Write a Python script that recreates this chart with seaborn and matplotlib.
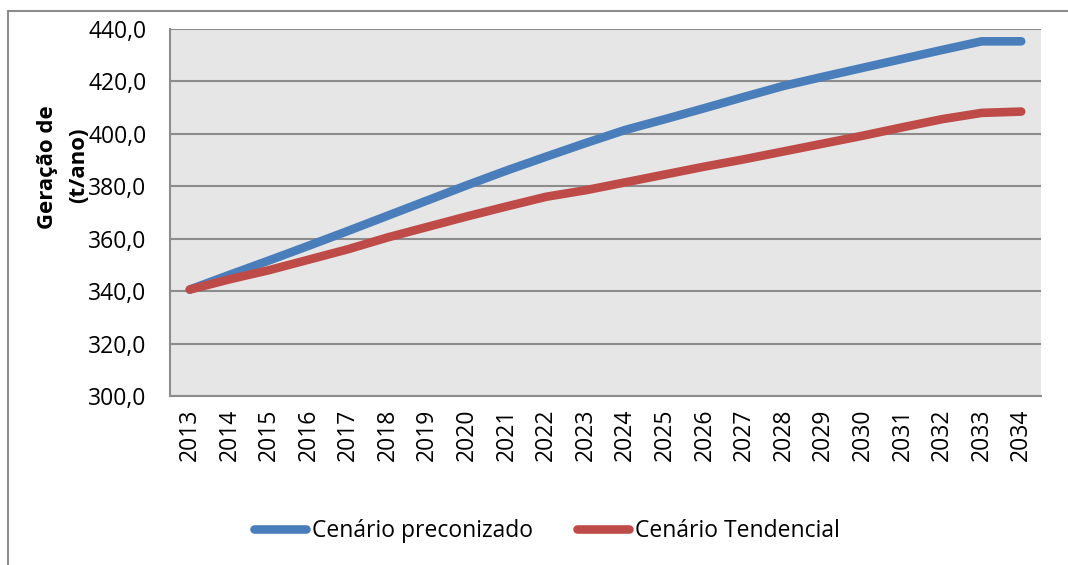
import numpy as np
import pandas as pd
import seaborn as sns
import matplotlib.pyplot as plt
from matplotlib.lines import Line2D
from matplotlib.ticker import FixedLocator, FuncFormatter

years = list(range(2013, 2035))
preconizado = [340.6, 346.2, 351.7, 357.3, 363.0, 368.8, 374.6, 380.4, 386.0, 391.3, 396.5,
               401.5, 405.6, 409.8, 414.1, 418.3, 421.8, 425.2, 428.6, 432.0, 435.3, 435.3]
tendencial = [340.6, 344.5, 348.0, 352.0, 356.0, 360.5, 364.5, 368.5, 372.3, 376.0, 378.5,
              381.5, 384.5, 387.5, 390.3, 393.3, 396.3, 399.3, 402.5, 405.6, 408.0, 408.5]
series_names = ["Cenário preconizado", "Cenário Tendencial"]
y_ticks = [300, 320, 340, 360, 380, 400, 420, 440]

df = pd.DataFrame({
    "Ano": years * 2,
    "Valor": preconizado + tendencial,
    "Serie": [series_names[0]] * len(years) + [series_names[1]] * len(years),
})

sns.set_style("white")
plt.rcParams['font.family'] = ['Open Sans', 'DejaVu Sans']
plt.rcParams['text.color'] = 'black'
plt.rcParams['xtick.labelcolor'] = 'black'
plt.rcParams['ytick.labelcolor'] = 'black'

W, H = 1068, 565
fig = plt.figure(figsize=(W / 100, H / 100), dpi=100)
ax = fig.add_axes([170 / W, 1 - 396 / H, 871 / W, 367 / H])
ax.set_facecolor("#E6E6E6")

palette = {series_names[0]: "#4A7EBB", series_names[1]: "#BE4B48"}
sns.lineplot(data=df, x="Ano", y="Valor", hue="Serie", palette=palette, ax=ax,
             linewidth=6.2, solid_capstyle="round", legend=True)

ax.set_ylim(300, 440)
ax.set_xlim(years[0] - 0.5, years[-1] + 0.5)
ax.yaxis.set_major_locator(FixedLocator(y_ticks))
ax.yaxis.set_major_formatter(FuncFormatter(lambda v, p: f"{v:.1f}".replace(".", ",")))
ax.grid(axis="y", color="#8C8C8C", linewidth=1.5)
ax.set_axisbelow(True)

ax.set_xticks(years)
ax.set_xticklabels([str(y) for y in years], rotation=90)
ax.set_xticks(np.arange(years[0] - 0.5, years[-1] + 1.0, 1.0), minor=True)
ax.tick_params(axis="x", which="major", length=0, labelsize=16.5, pad=9, labelcolor="black")
ax.tick_params(axis="x", which="minor", length=7, width=1.2, color="#8C8C8C", direction="out")
ax.tick_params(axis="y", length=7, width=1.2, color="#8C8C8C", direction="out", labelsize=16.5,
               pad=10, labelcolor="black")

for s in ["top", "right"]:
    ax.spines[s].set_visible(False)
for s in ["left", "bottom"]:
    ax.spines[s].set_color("#8C8C8C")
    ax.spines[s].set_linewidth(1.5)

ax.set_xlabel("")
ax.set_ylabel("")
fig.text(47 / W, 0.705, "Geração de", rotation=90, ha="center", va="center",
         fontsize=16, fontweight="bold", color="black")
fig.text(79 / W, 0.708, "(t/ano)", rotation=90, ha="center", va="center",
         fontsize=16, fontweight="bold", color="black")

handles, labels = ax.get_legend_handles_labels()
ax.get_legend().remove()
leg = fig.legend(handles, labels, loc="center", bbox_to_anchor=(547 / W, 1 - 531 / H), ncol=2,
                 frameon=False, fontsize=16.5, handlelength=2.27, handletextpad=0.25,
                 columnspacing=1.95, borderaxespad=0, borderpad=0, labelcolor="black")
for line in leg.get_lines():
    line.set_linewidth(6.2)
    line.set_solid_capstyle("round")

# outer chart frame (top and left edges only are visible)
fig.add_artist(Line2D([8 / W, 8 / W], [-0.05, 1 - 11 / H], transform=fig.transFigure,
                      color="#8C8C8C", linewidth=1.5))
fig.add_artist(Line2D([8 / W, 1.05], [1 - 11 / H, 1 - 11 / H], transform=fig.transFigure,
                      color="#8C8C8C", linewidth=1.5))

fig.savefig("out.png", dpi=100)
